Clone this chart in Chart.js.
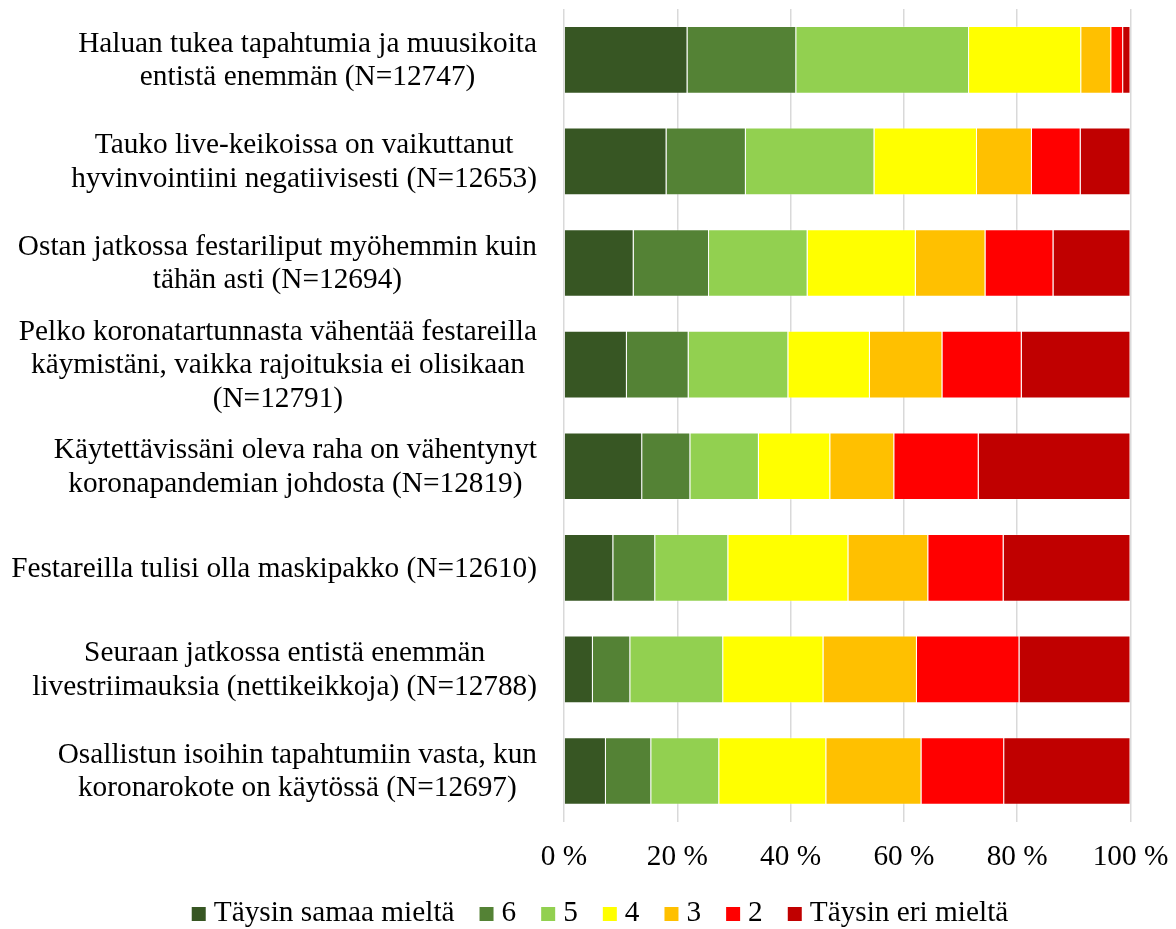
<!DOCTYPE html>
<html>
<head>
<meta charset="utf-8">
<script src="https://cdn.jsdelivr.net/npm/chart.js@4/dist/chart.umd.min.js"></script>
<style>
  html, body { margin: 0; padding: 0; background: #ffffff; }
  #wrap { width: 1176px; height: 929px; position: relative; }
</style>
</head>
<body>
<div id="wrap"><canvas id="c"></canvas></div>
<script>
const categories = [
  ["Haluan tukea tapahtumia ja muusikoita", "entistä enemmän (N=12747)"],
  ["Tauko live-keikoissa on vaikuttanut", "hyvinvointiini negatiivisesti (N=12653)"],
  ["Ostan jatkossa festariliput myöhemmin kuin", "tähän asti (N=12694)"],
  ["Pelko koronatartunnasta vähentää festareilla", "käymistäni, vaikka rajoituksia ei olisikaan", "(N=12791)"],
  ["Käytettävissäni oleva raha on vähentynyt", "koronapandemian johdosta (N=12819)"],
  ["Festareilla tulisi olla maskipakko (N=12610)"],
  ["Seuraan jatkossa entistä enemmän", "livestriimauksia (nettikeikkoja) (N=12788)"],
  ["Osallistun isoihin tapahtumiin vasta, kun", "koronarokote on käytössä (N=12697)"]
];
const seriesNames = ["Täysin samaa mieltä", "6", "5", "4", "3", "2", "Täysin eri mieltä"];
const seriesColors = ["#375623", "#548235", "#92D050", "#FFFF00", "#FFC000", "#FF0000", "#C00000"];
const s7 = [21.8, 18.1, 12.3, 11.1, 13.8, 8.7, 5.1, 7.4];
const s6 = [19.2, 14.0, 13.3, 10.9, 8.5, 7.4, 6.6, 8.0];
const s5 = [30.5, 22.7, 17.4, 17.6, 12.1, 12.9, 16.4, 12.0];
const s4 = [19.8, 18.1, 19.1, 14.4, 12.6, 21.2, 17.7, 18.9];
const s3 = [5.3, 9.7, 12.3, 12.8, 11.3, 14.1, 16.5, 16.8];
const s2 = [2.1, 8.6, 12.0, 14.0, 14.9, 13.3, 18.1, 14.6];
const s1 = [1.3, 8.8, 13.6, 19.2, 26.8, 22.4, 19.6, 22.3];
const seriesValues = [s7, s6, s5, s4, s3, s2, s1];
const xTickLabels = ["0 %", "20 %", "40 %", "60 %", "80 %", "100 %"];

const FONT = '"Liberation Serif", "Times New Roman", serif';
const FS = 29.3;

const labelPlugin = {
  id: 'catLabels',
  afterDraw(chart) {
    const ctx = chart.ctx;
    const y = chart.scales.y;
    const rightEdge = 537;
    const lh = 33.5;
    ctx.save();
    ctx.font = FS + 'px ' + FONT;
    ctx.fillStyle = '#000000';
    ctx.textAlign = 'center';
    ctx.textBaseline = 'middle';
    categories.forEach((lines, i) => {
      const yc = y.getPixelForValue(i);
      let w = 0;
      lines.forEach(l => { w = Math.max(w, ctx.measureText(l).width); });
      const cx = rightEdge - w / 2;
      const y0 = yc - (lines.length - 1) * lh / 2;
      lines.forEach((l, k) => ctx.fillText(l, cx, y0 + k * lh + 1));
    });
    ctx.restore();
  }
};

const legendPlugin = {
  id: 'customLegend',
  afterDraw(chart) {
    const ctx = chart.ctx;
    const box = 14, gapBT = 8, gapItem = 25;
    const yc = 913;
    ctx.save();
    ctx.font = FS + 'px ' + FONT;
    ctx.textBaseline = 'middle';
    ctx.textAlign = 'left';
    const widths = chart.data.datasets.map(ds => ctx.measureText(ds.label).width);
    let total = 0;
    widths.forEach((w, i) => { total += box + gapBT + w + (i < widths.length - 1 ? gapItem : 0); });
    let x = 600 - total / 2;
    chart.data.datasets.forEach((ds, i) => {
      ctx.fillStyle = ds.backgroundColor;
      ctx.fillRect(x, yc - box / 2 + 1, box, box);
      x += box + gapBT;
      ctx.fillStyle = '#000000';
      ctx.fillText(ds.label, x, yc);
      x += widths[i] + gapItem;
    });
    ctx.restore();
  }
};

new Chart(document.getElementById('c'), {
  type: 'bar',
  data: {
    labels: categories.map(l => l.join(' ')),
    datasets: seriesNames.map((n, i) => ({
      label: n,
      data: seriesValues[i],
      backgroundColor: seriesColors[i],
      borderColor: 'rgba(255,255,255,0.28)',
      borderWidth: 1,
      categoryPercentage: 1.0,
      barPercentage: 0.666
    }))
  },
  options: {
    indexAxis: 'y',
    responsive: true,
    maintainAspectRatio: false,
    animation: false,
    layout: { padding: { left: 70, right: 45.5, top: 9, bottom: 54 } },
    scales: {
      x: {
        stacked: true,
        min: 0,
        max: 100,
        ticks: {
          stepSize: 20,
          padding: 0,
          color: '#000000',
          font: { family: FONT, size: FS },
          callback: (v) => xTickLabels[Math.round(v / 20)]
        },
        grid: { color: '#d9d9d9', lineWidth: 1.5, drawTicks: true, tickLength: 18, tickColor: 'rgba(0,0,0,0)' },
        border: { display: false }
      },
      y: {
        stacked: true,
        ticks: { display: false },
        grid: { display: false },
        border: { display: false },
        afterFit: (scale) => { scale.width = 494; }
      }
    },
    plugins: {
      legend: { display: false },
      tooltip: { enabled: false }
    }
  },
  plugins: [labelPlugin, legendPlugin]
});
</script>
</body>
</html>
